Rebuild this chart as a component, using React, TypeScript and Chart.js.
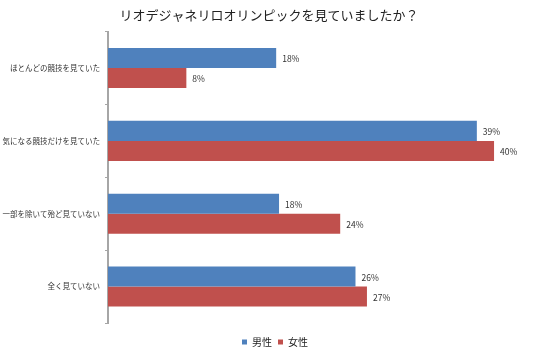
import React, { useEffect, useRef } from "react";
import { Chart, registerables } from "chart.js";

Chart.register(...registerables);

const titleText = "リオデジャネリロオリンピックを見ていましたか？";
const categories = [
  "ほとんどの競技を見ていた",
  "気になる競技だけを見ていた",
  "一部を除いて殆ど見ていない",
  "全く見ていない",
];
const seriesNames = ["男性", "女性"];
const maleValues = [17.6, 38.6, 17.9, 25.9];
const femaleValues = [8.2, 40.4, 24.3, 27.1];
const colors = ["#4F81BD", "#C0504D"];

const FONT = "'Noto Sans CJK JP', 'Noto Sans', sans-serif";

const valueLabels = {
  id: "valueLabels",
  afterLayout(chart: any) {
    if (chart.legend) chart.legend.left = 12;
  },
  afterDatasetsDraw(chart: any) {
    const ctx = chart.ctx;
    ctx.save();
    ctx.font = `8.5px ${FONT}`;
    ctx.fillStyle = "#333";
    ctx.textBaseline = "middle";
    ctx.textAlign = "left";
    chart.data.datasets.forEach((ds: any, di: number) => {
      const meta = chart.getDatasetMeta(di);
      meta.data.forEach((bar: any, i: number) => {
        const v = ds.data[i];
        ctx.fillText(Math.round(v) + "%", bar.x + 6, bar.y + 1);
      });
    });
    ctx.restore();
  },
};

export default function App() {
  const ref = useRef<HTMLCanvasElement>(null);
  useEffect(() => {
    document.body.style.margin = "0";
    const chart = new Chart(ref.current!, {
      type: "bar",
      data: {
        labels: categories,
        datasets: [
          { label: seriesNames[0], data: maleValues, backgroundColor: colors[0] },
          { label: seriesNames[1], data: femaleValues, backgroundColor: colors[1] },
        ],
      },
      plugins: [valueLabels],
      options: {
        indexAxis: "y",
        animation: false,
        responsive: false,
        maintainAspectRatio: false,
        layout: { padding: { left: 0, right: 12, top: 0, bottom: -5 } },
        datasets: {
          bar: { categoryPercentage: 0.55, barPercentage: 1 },
        },
        scales: {
          x: { display: false, min: 0, max: 45 },
          y: {
            afterFit(scale: any) {
              scale.width = 108;
            },
            border: { display: true, color: "#a6a6a6", width: 2 },
            grid: {
              display: true,
              drawOnChartArea: false,
              drawTicks: true,
              tickLength: 3,
              color: "#a6a6a6",
              offset: true,
            },
            ticks: {
              padding: 5,
              color: "#333",
              font: { family: FONT, size: 7.5 },
            },
          },
        },
        plugins: {
          title: {
            display: true,
            text: titleText,
            color: "#222",
            font: { family: FONT, size: 13, weight: "normal" },
            padding: { top: 7, bottom: 9 },
          },
          legend: {
            position: "bottom",
            title: {
              display: true,
              text: " ",
              font: { family: FONT, size: 8, lineHeight: 1 },
              padding: 0,
            },
            labels: {
              boxWidth: 5,
              boxHeight: 5,
              padding: 6,
              color: "#222",
              font: { family: FONT, size: 10 },
            },
          },
          tooltip: { enabled: false },
        },
      },
    });
    return () => chart.destroy();
  }, []);
  return (
    <div style={{ position: "absolute", left: 0, top: 0, width: 550, height: 352 }}>
      <canvas ref={ref} width={550} height={352} />
    </div>
  );
}
